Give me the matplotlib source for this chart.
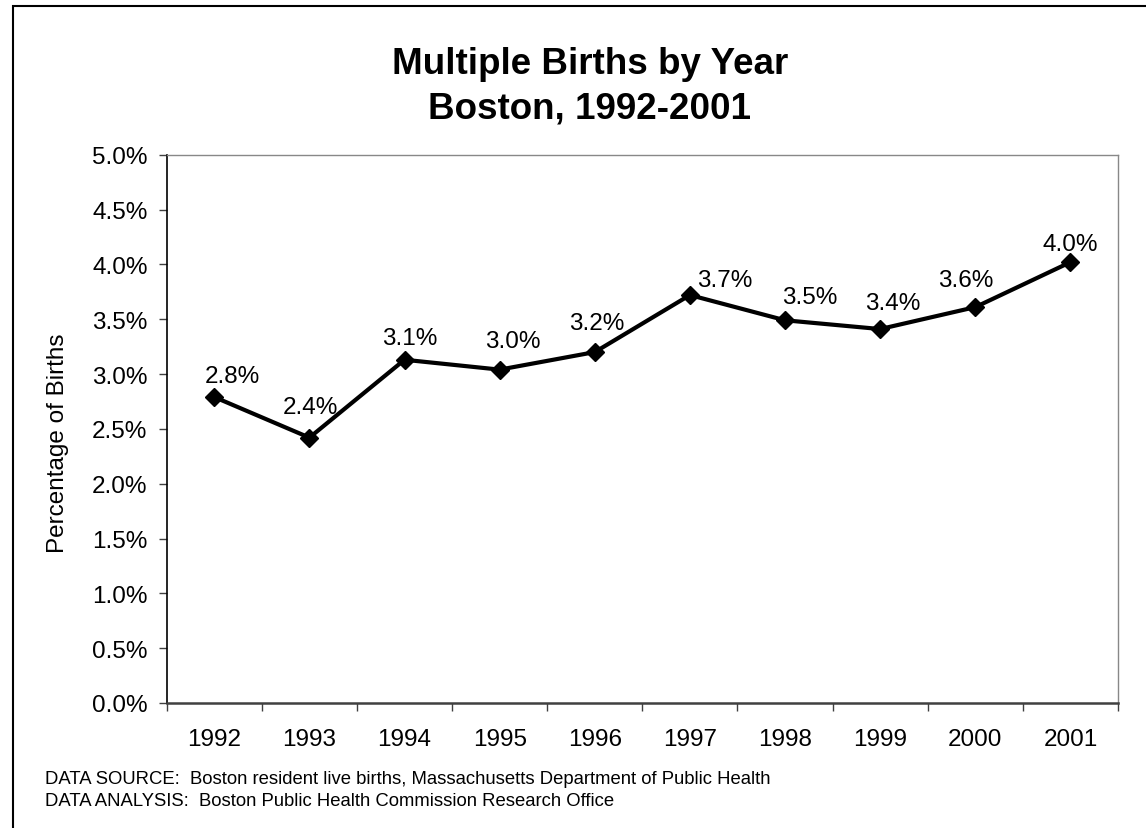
import matplotlib
matplotlib.use("Agg")
import matplotlib.pyplot as plt
from matplotlib.patches import Rectangle
from matplotlib.ticker import FuncFormatter, FixedLocator

plt.rcParams['font.family'] = ['Liberation Sans', 'DejaVu Sans']

years = ['1992', '1993', '1994', '1995', '1996', '1997', '1998', '1999', '2000', '2001']
pct = [2.79, 2.42, 3.13, 3.04, 3.20, 3.72, 3.49, 3.41, 3.61, 4.02]
y_ticks = [0.0, 0.5, 1.0, 1.5, 2.0, 2.5, 3.0, 3.5, 4.0, 4.5, 5.0]
title_lines = ['Multiple Births by Year', 'Boston, 1992-2001']
y_label = 'Percentage of Births'
notes = ['DATA SOURCE:  Boston resident live births, Massachusetts Department of Public Health',
         'DATA ANALYSIS:  Boston Public Health Commission Research Office']

# label offsets (pixels) relative to each marker
label_dx = [18, 1, 5, 13, 2, 35, 25, 13, -10, 0]
label_dy = [15, 25, 16, 23, 23, 9, 17, 20, 21, 12]

fig = plt.figure(figsize=(11.46, 8.29), dpi=100)
fig.patch.set_facecolor('white')

# outer border
fig.patches.append(Rectangle((13 / 1146, -0.01), 1.02, 1 - 7 / 829 + 0.01,
                             transform=fig.transFigure, fill=False,
                             edgecolor='black', linewidth=1.5, clip_on=False))

ax = fig.add_axes([166.7 / 1146, 1 - 704 / 829, (1118 - 166.7) / 1146, (704 - 155.7) / 829])
x = list(range(len(years)))
ax.plot(x, pct, color='black', linewidth=3.0, marker='D', markersize=9.5,
        markerfacecolor='black', markeredgecolor='black', solid_joinstyle='miter')

FS = 17.5
for xi, v, dx, dy in zip(x, pct, label_dx, label_dy):
    ax.annotate(f'{v:.1f}%', (xi, v), xytext=(dx, dy), textcoords='offset pixels',
                ha='center', va='baseline', fontsize=FS, color='black')

ax.set_xlim(-0.5, len(years) - 0.5)
ax.set_ylim(0, 5.0)
ax.set_yticks(y_ticks)
ax.yaxis.set_major_formatter(FuncFormatter(lambda v, p: f'{v:.1f}%'))
ax.set_xticks(x)
ax.set_xticklabels(years)
ax.xaxis.set_minor_locator(FixedLocator([i + 0.5 for i in range(-1, len(years))]))
ax.tick_params(axis='x', which='major', length=0, labelsize=FS, pad=18)
ax.tick_params(axis='x', which='minor', length=5.8, width=1, color='#404040', direction='out')
ax.tick_params(axis='y', which='major', length=5.8, width=1, color='#404040', labelsize=FS, pad=8)

ax.spines['left'].set_color('black')
ax.spines['left'].set_linewidth(1.2)
ax.spines['bottom'].set_color('#404040')
ax.spines['bottom'].set_linewidth(1.8)
ax.spines['top'].set_color('#888888')
ax.spines['top'].set_linewidth(1)
ax.spines['right'].set_color('#888888')
ax.spines['right'].set_linewidth(1)

fig.text(58 / 1146, 1 - 443 / 829, y_label, rotation=90, ha='center', va='center', fontsize=17.5)

fig.text(590 / 1146, 1 - 65 / 829, title_lines[0], ha='center', va='center',
         fontsize=26.5, fontweight='bold')
fig.text(590 / 1146, 1 - 109 / 829, title_lines[1], ha='center', va='center',
         fontsize=26.5, fontweight='bold')

fig.text(45 / 1146, 1 - 780 / 829, notes[0], ha='left', va='center', fontsize=13.3)
fig.text(45 / 1146, 1 - 802 / 829, notes[1], ha='left', va='center', fontsize=13.3)

fig.savefig('out.png', dpi=100, facecolor='white')
